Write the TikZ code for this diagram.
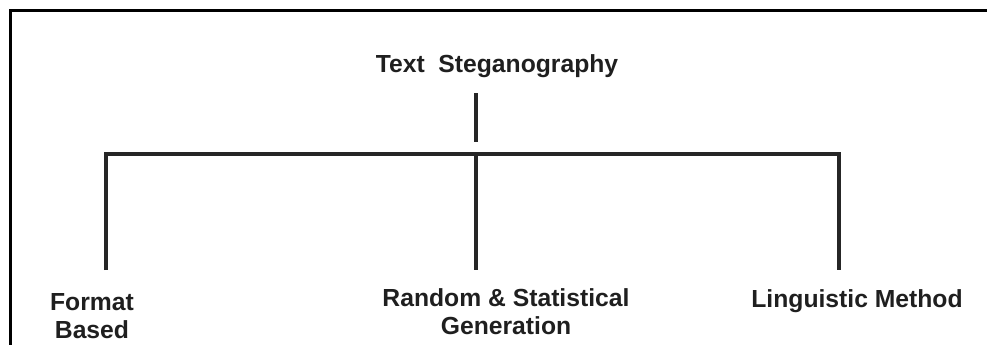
\documentclass[tikz,border=0pt]{standalone}
\usepackage{fontspec}
\setmainfont{Liberation Sans}
\begin{document}
\begin{tikzpicture}[x=1pt,y=-1pt,
  label/.style={font=\bfseries\fontsize{24.7}{28}\selectfont, text=black!88,
    inner sep=0pt, align=center, anchor=base},
  branch/.style={line width=3.9pt, black!85},
  frame/.style={line width=3.6pt, black}]
\useasboundingbox (0,0) rectangle (987,345);

% frame edges along the top and the left
\draw[frame] (10.5,345) -- (10.5,10.5) -- (987,10.5);

% labels (anchored at the baseline of their last line)
\node[label] (root) at (497,73) {Text\ \ Steganography};
\node[label] (fmt)  at (92,338) {Format\\Based};
\node[label] (rnd)  at (506,334) {Random \& Statistical\\Generation};
\node[label] (ling) at (857,307) {Linguistic Method};

% tree connectors
\coordinate (stemTop) at (476,93);
\coordinate (stemBot) at (476,142);
\coordinate (jL) at (106,154);
\coordinate (jM) at (476,154);
\coordinate (jR) at (839,154);
\coordinate (eL) at (106,270);
\coordinate (eM) at (476,270);
\coordinate (eR) at (839,270);

\draw[branch] (stemTop) -- (stemBot);
\draw[branch] (eL) -- (jL) -- (jR) -- (eR);
\draw[branch] (jM) -- (eM);
\end{tikzpicture}
\end{document}
